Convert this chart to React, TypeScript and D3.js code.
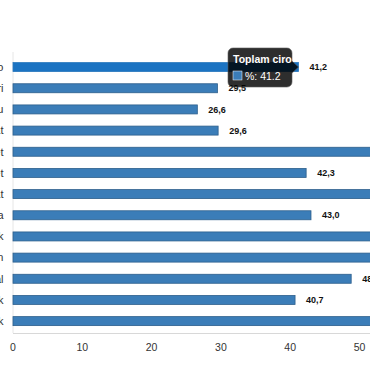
import { useEffect, useRef } from "react";
import * as d3 from "d3";

const categories = [
  "Fotoğraf ve video",
  "Beyaz eşya ürünleri",
  "Ev tekstili grubu",
  "Hırdavat",
  "Süpermarket",
  "Yapı market",
  "Saat",
  "Ayakkabı ve çanta",
  "Elektronik",
  "Bahçe ve dekorasyon",
  "Dijital",
  "Oyuncak",
  "Kozmetik",
];
const values = [41.2, 29.5, 26.6, 29.6, 57.8, 42.3, 61.4, 43.0, 55.9, 58.7, 48.8, 40.7, 63.2];
const xTicks = [0, 10, 20, 30, 40, 50];
const highlighted = 0;
const tooltipTitle = "Toplam ciro";
const tooltipSeries = "%";

const W = 370;
const H = 380;

export default function App() {
  const svgRef = useRef<SVGSVGElement>(null);

  useEffect(() => {
    if (!svgRef.current) return;
    document.body.style.margin = "0";

    const svg = d3.select(svgRef.current);
    svg.selectAll("*").remove();

    const x = d3.scaleLinear().domain([0, 50]).range([13, 359.5]);
    const y = d3
      .scaleBand<string>()
      .domain(categories)
      .range([56.5, 331.7])
      .paddingInner(0.575)
      .paddingOuter(0.2875);

    const font = "'Liberation Sans', Arial, sans-serif";

    // grid / axis lines
    svg
      .append("line")
      .attr("x1", x(0))
      .attr("x2", x(0))
      .attr("y1", 52)
      .attr("y2", 333)
      .attr("stroke", "#e6e6e6");
    svg
      .append("line")
      .attr("x1", x(0))
      .attr("x2", W)
      .attr("y1", 333.5)
      .attr("y2", 333.5)
      .attr("stroke", "#d8d8d8");

    // bars
    categories.forEach((c, i) => {
      svg
        .append("rect")
        .attr("x", x(0))
        .attr("y", y(c)!)
        .attr("width", x(values[i]) - x(0))
        .attr("height", y.bandwidth())
        .attr("fill", i === highlighted ? "#1b73c2" : "#3b7db8")
        .attr("stroke", i === highlighted ? "#2a78bd" : "#2d5f8c")
        .attr("stroke-width", 0.8);

      svg
        .append("text")
        .attr("x", x(values[i]) + 11)
        .attr("y", y(c)! + y.bandwidth() / 2)
        .attr("dy", "0.35em")
        .attr("font-family", font)
        .attr("font-size", 9)
        .attr("font-weight", 700)
        .attr("fill", "#111")
        .text(values[i].toFixed(1).replace(".", ","));

      svg
        .append("text")
        .attr("x", 3.5)
        .attr("y", y(c)! + y.bandwidth() / 2)
        .attr("dy", "0.35em")
        .attr("text-anchor", "end")
        .attr("font-family", font)
        .attr("font-size", 11)
        .attr("fill", "#333")
        .text(c);
    });

    // x ticks
    xTicks.forEach((t) => {
      svg
        .append("text")
        .attr("x", x(t))
        .attr("y", 347)
        .attr("dy", "0.35em")
        .attr("text-anchor", "middle")
        .attr("font-family", font)
        .attr("font-size", 10.5)
        .attr("fill", "#333")
        .text(String(t));
    });

    // tooltip
    const v = values[highlighted];
    const cy = y(categories[highlighted])! + y.bandwidth() / 2;
    const tipX = x(v);
    const bx0 = 228;
    const bx1 = 292;
    const by0 = 48;
    const by1 = 87;
    const r = 5;
    const p = d3.path();
    p.moveTo(bx0 + r, by0);
    p.lineTo(bx1 - r, by0);
    p.arcTo(bx1, by0, bx1, by0 + r, r);
    p.lineTo(bx1, cy - 6);
    p.lineTo(tipX, cy);
    p.lineTo(bx1, cy + 6);
    p.lineTo(bx1, by1 - r);
    p.arcTo(bx1, by1, bx1 - r, by1, r);
    p.lineTo(bx0 + r, by1);
    p.arcTo(bx0, by1, bx0, by1 - r, r);
    p.lineTo(bx0, by0 + r);
    p.arcTo(bx0, by0, bx0 + r, by0, r);
    p.closePath();

    const tip = svg.append("g");
    tip
      .append("path")
      .attr("d", p.toString())
      .attr("fill", "rgba(0,0,0,0.82)")
      .attr("stroke", "rgba(90,90,90,0.6)")
      .attr("stroke-width", 1);
    tip
      .append("text")
      .attr("x", bx0 + 5)
      .attr("y", 59)
      .attr("dy", "0.35em")
      .attr("font-family", font)
      .attr("font-size", 10.5)
      .attr("font-weight", 700)
      .attr("fill", "#fff")
      .text(tooltipTitle);
    tip
      .append("rect")
      .attr("x", bx0 + 5)
      .attr("y", 71)
      .attr("width", 9)
      .attr("height", 9)
      .attr("fill", "#3b7db8")
      .attr("stroke", "#fff")
      .attr("stroke-width", 0.5);
    tip
      .append("text")
      .attr("x", bx0 + 17)
      .attr("y", 76)
      .attr("dy", "0.35em")
      .attr("font-family", font)
      .attr("font-size", 10.5)
      .attr("fill", "#fff")
      .text(`${tooltipSeries}: ${v}`);
  }, []);

  return (
    <div style={{ position: "absolute", left: 0, top: 0 }}>
      <svg ref={svgRef} width={W} height={H} style={{ display: "block", background: "#fff" }} />
    </div>
  );
}
